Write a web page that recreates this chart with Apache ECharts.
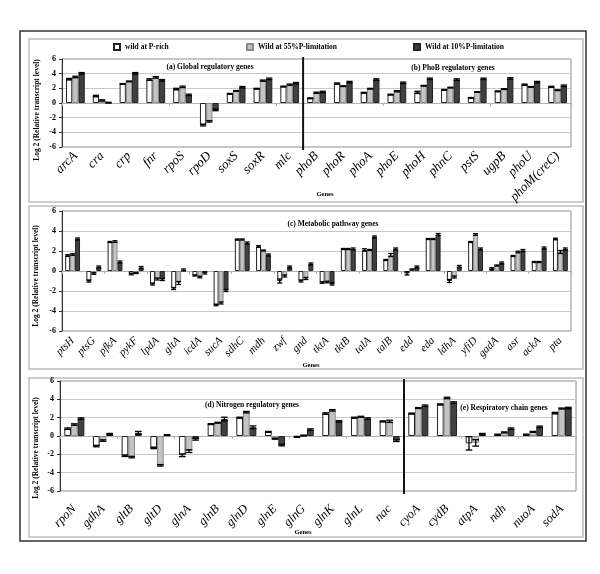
<!DOCTYPE html>
<html><head><meta charset="utf-8">
<script src="https://cdn.jsdelivr.net/npm/echarts@6.0.0/dist/echarts.min.js"></script>
<style>html,body{margin:0;padding:0;background:#fff}#c{width:600px;height:574px}</style>
</head><body><div id="c"></div>
<script>
const seriesNames = ['wild at P-rich', 'Wild at 55%P-limitation', 'Wild at 10%P-limitation'];
const yMin = -6, yMax = 6, yStep = 2;

// Panel (a)/(b)
const genesA = ['arcA','cra','crp','fnr','rpoS','rpoD','soxS','soxR','mlc','phoB','phoR','phoA','phoE','phoH','phnC','pstS','ugpB','phoU','phoM(creC)'];
const richA  = [3.25,0.95,2.6,3.2,1.9,-3.0,1.25,1.95,2.25, 0.65,2.65,1.4,1.15,1.45,1.8,0.7,1.6,2.5,2.2];
const lim55A = [3.55,0.35,2.95,3.5,2.2,-2.5,1.65,3.05,2.5, 1.4,2.3,1.95,1.6,2.35,2.1,1.5,1.9,2.2,1.75];
const lim10A = [4.05,0.05,4.05,3.1,1.1,-0.95,2.15,3.3,2.7, 1.5,2.85,3.2,2.75,3.3,3.2,3.3,3.35,2.85,2.35];
const errRichA = [0.1,0.1,0.05,0.1,0.1,0.12,0.05,0.05,0.05, 0.05,0.08,0.05,0.05,0.15,0.05,0.05,0.05,0.08,0.08];
const err55A   = [0.1,0.08,0.05,0.1,0.1,0.1,0.05,0.08,0.08, 0.08,0.05,0.05,0.08,0.05,0.05,0.05,0.05,0.05,0.05];
const err10A   = [0.1,0.05,0.1,0.1,0.1,0.1,0.1,0.1,0.1, 0.1,0.1,0.1,0.1,0.1,0.1,0.1,0.1,0.1,0.1];
const dividerA = 8;

// Panel (c)
const genesC = ['ptsH','ptsG','pfkA','pykF','lpdA','gltA','icdA','sucA','sdhC','mdh','zwf','gnd','tktA','tktB','talA','talB','edd','eda','ldhA','yfiD','gadA','asr','ackA','pta'];
const richC  = [1.55,-1.0,2.9,-0.3,-1.3,-1.75,-0.45,-3.4,3.15,2.45,-1.0,-1.0,-1.15,2.2,2.1,1.1,-0.25,3.2,-1.0,2.9,0.25,1.5,0.9,3.2];
const lim55C = [1.65,-0.25,2.95,-0.2,-0.8,-1.2,-0.6,-3.2,3.15,2.05,-0.5,-0.75,-1.1,2.2,2.1,1.6,0.15,3.2,-0.6,3.65,0.55,1.9,0.9,1.9];
const lim10C = [3.2,0.4,0.9,0.35,-0.85,0.1,-0.2,-1.95,2.8,1.6,0.4,0.7,-1.3,2.2,3.4,2.2,0.4,3.65,0.45,2.2,0.8,2.05,2.3,2.2];
const errRichC = [0.08,0.1,0.05,0.08,0.1,0.1,0.05,0.08,0.05,0.08,0.2,0.1,0.08,0.05,0.12,0.05,0.15,0.05,0.15,0.05,0.08,0.05,0.05,0.08];
const err55C   = [0.08,0.08,0.08,0.05,0.1,0.15,0.08,0.1,0.05,0.05,0.1,0.1,0.08,0.05,0.05,0.15,0.05,0.05,0.1,0.08,0.05,0.08,0.05,0.15];
const err10C   = [0.1,0.1,0.1,0.1,0.1,0.1,0.1,0.1,0.1,0.1,0.1,0.1,0.1,0.1,0.1,0.1,0.1,0.1,0.1,0.1,0.1,0.1,0.1,0.1];

// Panel (d)/(e)
const genesD = ['rpoN','gdhA','gltB','gltD','glnA','glnB','glnD','glnE','glnG','glnK','glnL','nac','cyoA','cydB','atpA','ndh','nuoA','sodA'];
const richD  = [0.8,-1.1,-2.15,-1.3,-2.1,1.3,2.0,0.45,-0.1,2.45,2.0,1.6,2.45,3.45,-0.8,0.15,0.15,2.5];
const lim55D = [1.25,-0.5,-2.3,-3.2,-1.65,1.45,2.6,-0.3,0.05,2.8,2.1,1.6,3.05,4.15,-0.75,0.4,0.45,3.0];
const lim10D = [1.9,0.2,0.35,0.1,-0.35,1.85,0.95,-1.0,0.7,1.6,1.9,-0.5,3.3,3.65,0.2,0.8,1.0,3.05];
const errRichD = [0.08,0.08,0.08,0.08,0.15,0.05,0.05,0.05,0.05,0.08,0.05,0.05,0.05,0.05,0.73,0.05,0.05,0.08];
const err55D   = [0.08,0.08,0.08,0.08,0.15,0.05,0.08,0.05,0.05,0.08,0.05,0.12,0.05,0.08,0.35,0.05,0.05,0.05];
const err10D   = [0.08,0.08,0.15,0.05,0.1,0.2,0.15,0.08,0.08,0.08,0.08,0.1,0.08,0.08,0.08,0.08,0.08,0.08];
const dividerD = 11;

const panels = [
  {genes: genesA, vals: [richA, lim55A, lim10A], errs: [errRichA, err55A, err10A], divider: dividerA,
   grid: {left: 62, top: 59, width: 509, height: 88}, labelSize: 13, labelMargin: 7},
  {genes: genesC, vals: [richC, lim55C, lim10C], errs: [errRichC, err55C, err10C], divider: null,
   grid: {left: 62, top: 211, width: 509, height: 120}, labelSize: 11, labelMargin: 8},
  {genes: genesD, vals: [richD, lim55D, lim10D], errs: [errRichD, err55D, err10D], divider: dividerD,
   grid: {left: 60, top: 381, width: 516, height: 110}, labelSize: 12.5, labelMargin: 16}
];

const SERIF = '"Liberation Serif", "Times New Roman", serif';
const barStyles = [
  {color: '#ffffff', borderColor: '#222', borderWidth: 1},
  {color: '#c4c4c4', borderColor: '#8a8a8a', borderWidth: 1},
  {color: '#404040', borderColor: '#222', borderWidth: 1}
];
const GAP = 0.30;

function errItem(params, api) {
  const cat = api.value(0), v = api.value(1), e = api.value(2), si = api.value(3);
  const bw = api.size([1, 0])[0];
  const barW = bw * (1 - GAP) / 3;
  const cx = api.coord([cat, 0])[0] - bw * (1 - GAP) / 2 + barW * (si + 0.5);
  const y1 = api.coord([cat, v + e])[1], y2 = api.coord([cat, v - e])[1];
  const hw = barW / 2;
  const st = {stroke: '#000', lineWidth: 1.3};
  return {type: 'group', children: [
    {type: 'line', shape: {x1: cx, y1: y1, x2: cx, y2: y2}, style: st},
    {type: 'line', shape: {x1: cx - hw, y1: y1, x2: cx + hw, y2: y1}, style: st},
    {type: 'line', shape: {x1: cx - hw, y1: y2, x2: cx + hw, y2: y2}, style: st}
  ]};
}
function divItem(params, api) {
  const cat = api.value(0);
  const bw = api.size([1, 0])[0];
  const x = api.coord([cat, 0])[0] + bw / 2;
  const cs = params.coordSys;
  return {type: 'line', shape: {x1: x, y1: cs.y - 2, x2: x, y2: cs.y + cs.height + 3},
          style: {stroke: '#111', lineWidth: 2}};
}

const grids = [], xAxes = [], yAxes = [], series = [];
panels.forEach((p, gi) => {
  grids.push(Object.assign({show: true, borderColor: '#8c8c8c', borderWidth: 1, backgroundColor: 'transparent',
    containLabel: false, outerBoundsMode: 'none'}, p.grid));
  xAxes.push({gridIndex: gi, type: 'category', data: p.genes, position: 'bottom',
    axisLine: {show: false, onZero: false}, axisTick: {show: false},
    axisLabel: {interval: 0, rotate: 45, margin: p.labelMargin, fontFamily: SERIF, fontStyle: 'italic',
      fontSize: p.labelSize, color: '#000', hideOverlap: false}});
  xAxes.push({gridIndex: gi, type: 'category', data: p.genes, position: 'bottom',
    axisLine: {show: true, onZero: true, lineStyle: {color: '#b0b0b0', width: 1}},
    axisTick: {show: true, length: 3, lineStyle: {color: '#b0b0b0'}},
    axisLabel: {show: false}, splitLine: {show: false}});
  yAxes.push({gridIndex: gi, type: 'value', min: yMin, max: yMax, interval: yStep,
    axisLine: {show: true, onZero: false, lineStyle: {color: '#333', width: 1}},
    axisTick: {show: true, length: 3, lineStyle: {color: '#333'}},
    axisLabel: {fontFamily: SERIF, fontWeight: 'bold', fontSize: 8, color: '#000', margin: 6},
    splitLine: {show: true, lineStyle: {color: '#c8c8c8', width: 1}}});
  const xi = gi * 2;
  p.vals.forEach((vals, si) => {
    series.push({type: 'bar', name: seriesNames[si], xAxisIndex: xi, yAxisIndex: gi, data: vals,
      barGap: '0%', barCategoryGap: (GAP * 100) + '%', itemStyle: barStyles[si], emphasis: {disabled: true},
      animation: false});
  });
  const errData = [];
  p.vals.forEach((vals, si) => vals.forEach((v, ci) => errData.push([ci, v, p.errs[si][ci], si])));
  series.push({type: 'custom', xAxisIndex: xi, yAxisIndex: gi, data: errData, renderItem: errItem,
    z: 5, silent: true, animation: false, encode: {x: 0, y: 1}});
  if (p.divider !== null) {
    series.push({type: 'custom', xAxisIndex: xi, yAxisIndex: gi, data: [[p.divider, 0]], renderItem: divItem,
      z: 6, silent: true, animation: false, encode: {x: 0, y: 1}, clip: false});
  }
});

const txt = (x, y, s, opts) => Object.assign({type: 'text', x: x, y: y,
  style: Object.assign({text: s, fontFamily: SERIF, fontWeight: 'bold', fontSize: 7.5, fill: '#000',
    align: 'center', verticalAlign: 'middle'}, opts || {})});
const yName = 'Log 2 (Relative transcript level)';
const rot = (x, y, s) => ({type: 'text', x: x, y: y, rotation: Math.PI / 2,
  style: {text: s, fontFamily: SERIF, fontWeight: 'bold', fontSize: 7.5, fill: '#000', align: 'center', verticalAlign: 'middle'}});

const graphic = [
  {type: 'rect', shape: {x: 20, y: 31, width: 566, height: 510}, style: {fill: 'none', stroke: '#333', lineWidth: 1.5}, z: -10},
  {type: 'rect', shape: {x: 29, y: 39, width: 554, height: 163}, style: {fill: 'none', stroke: '#bdbdbd', lineWidth: 1.5}, z: -10},
  {type: 'rect', shape: {x: 29, y: 206, width: 554, height: 163}, style: {fill: 'none', stroke: '#bdbdbd', lineWidth: 1.5}, z: -10},
  {type: 'rect', shape: {x: 29, y: 378, width: 554, height: 159}, style: {fill: 'none', stroke: '#bdbdbd', lineWidth: 1.5}, z: -10},
  txt(210, 67, '(a) Global regulatory genes'),
  txt(453, 68, '(b) PhoB regulatory genes'),
  txt(333, 224, '(c) Metabolic pathway genes'),
  txt(252, 405, '(d) Nitrogen regulatory genes'),
  txt(504, 408, '(e) Respiratory chain genes'),
  txt(325, 194, 'Genes', {fontSize: 6.5}),
  txt(311, 365, 'Genes', {fontSize: 6.5}),
  txt(303, 532, 'Genes', {fontSize: 6.5}),
  rot(37, 110, yName),
  rot(36, 276, yName),
  rot(36, 448, yName)
];

const legendBase = {top: 43, icon: 'rect', itemWidth: 6, itemHeight: 6, padding: 0, selectedMode: false,
  textStyle: {fontFamily: SERIF, fontWeight: 'bold', fontSize: 7.5, color: '#000'}};
const legendLefts = [113, 246, 413];
const legends = seriesNames.map((n, i) => Object.assign({data: [n], left: legendLefts[i]}, legendBase));

const chart = echarts.init(document.getElementById('c'), null, {renderer: 'canvas'});
chart.setOption({
  animation: false,
  backgroundColor: '#fff',
  legend: legends,
  grid: grids, xAxis: xAxes, yAxis: yAxes, series: series, graphic: graphic,
  tooltip: {show: false}
});
</script></body></html>
